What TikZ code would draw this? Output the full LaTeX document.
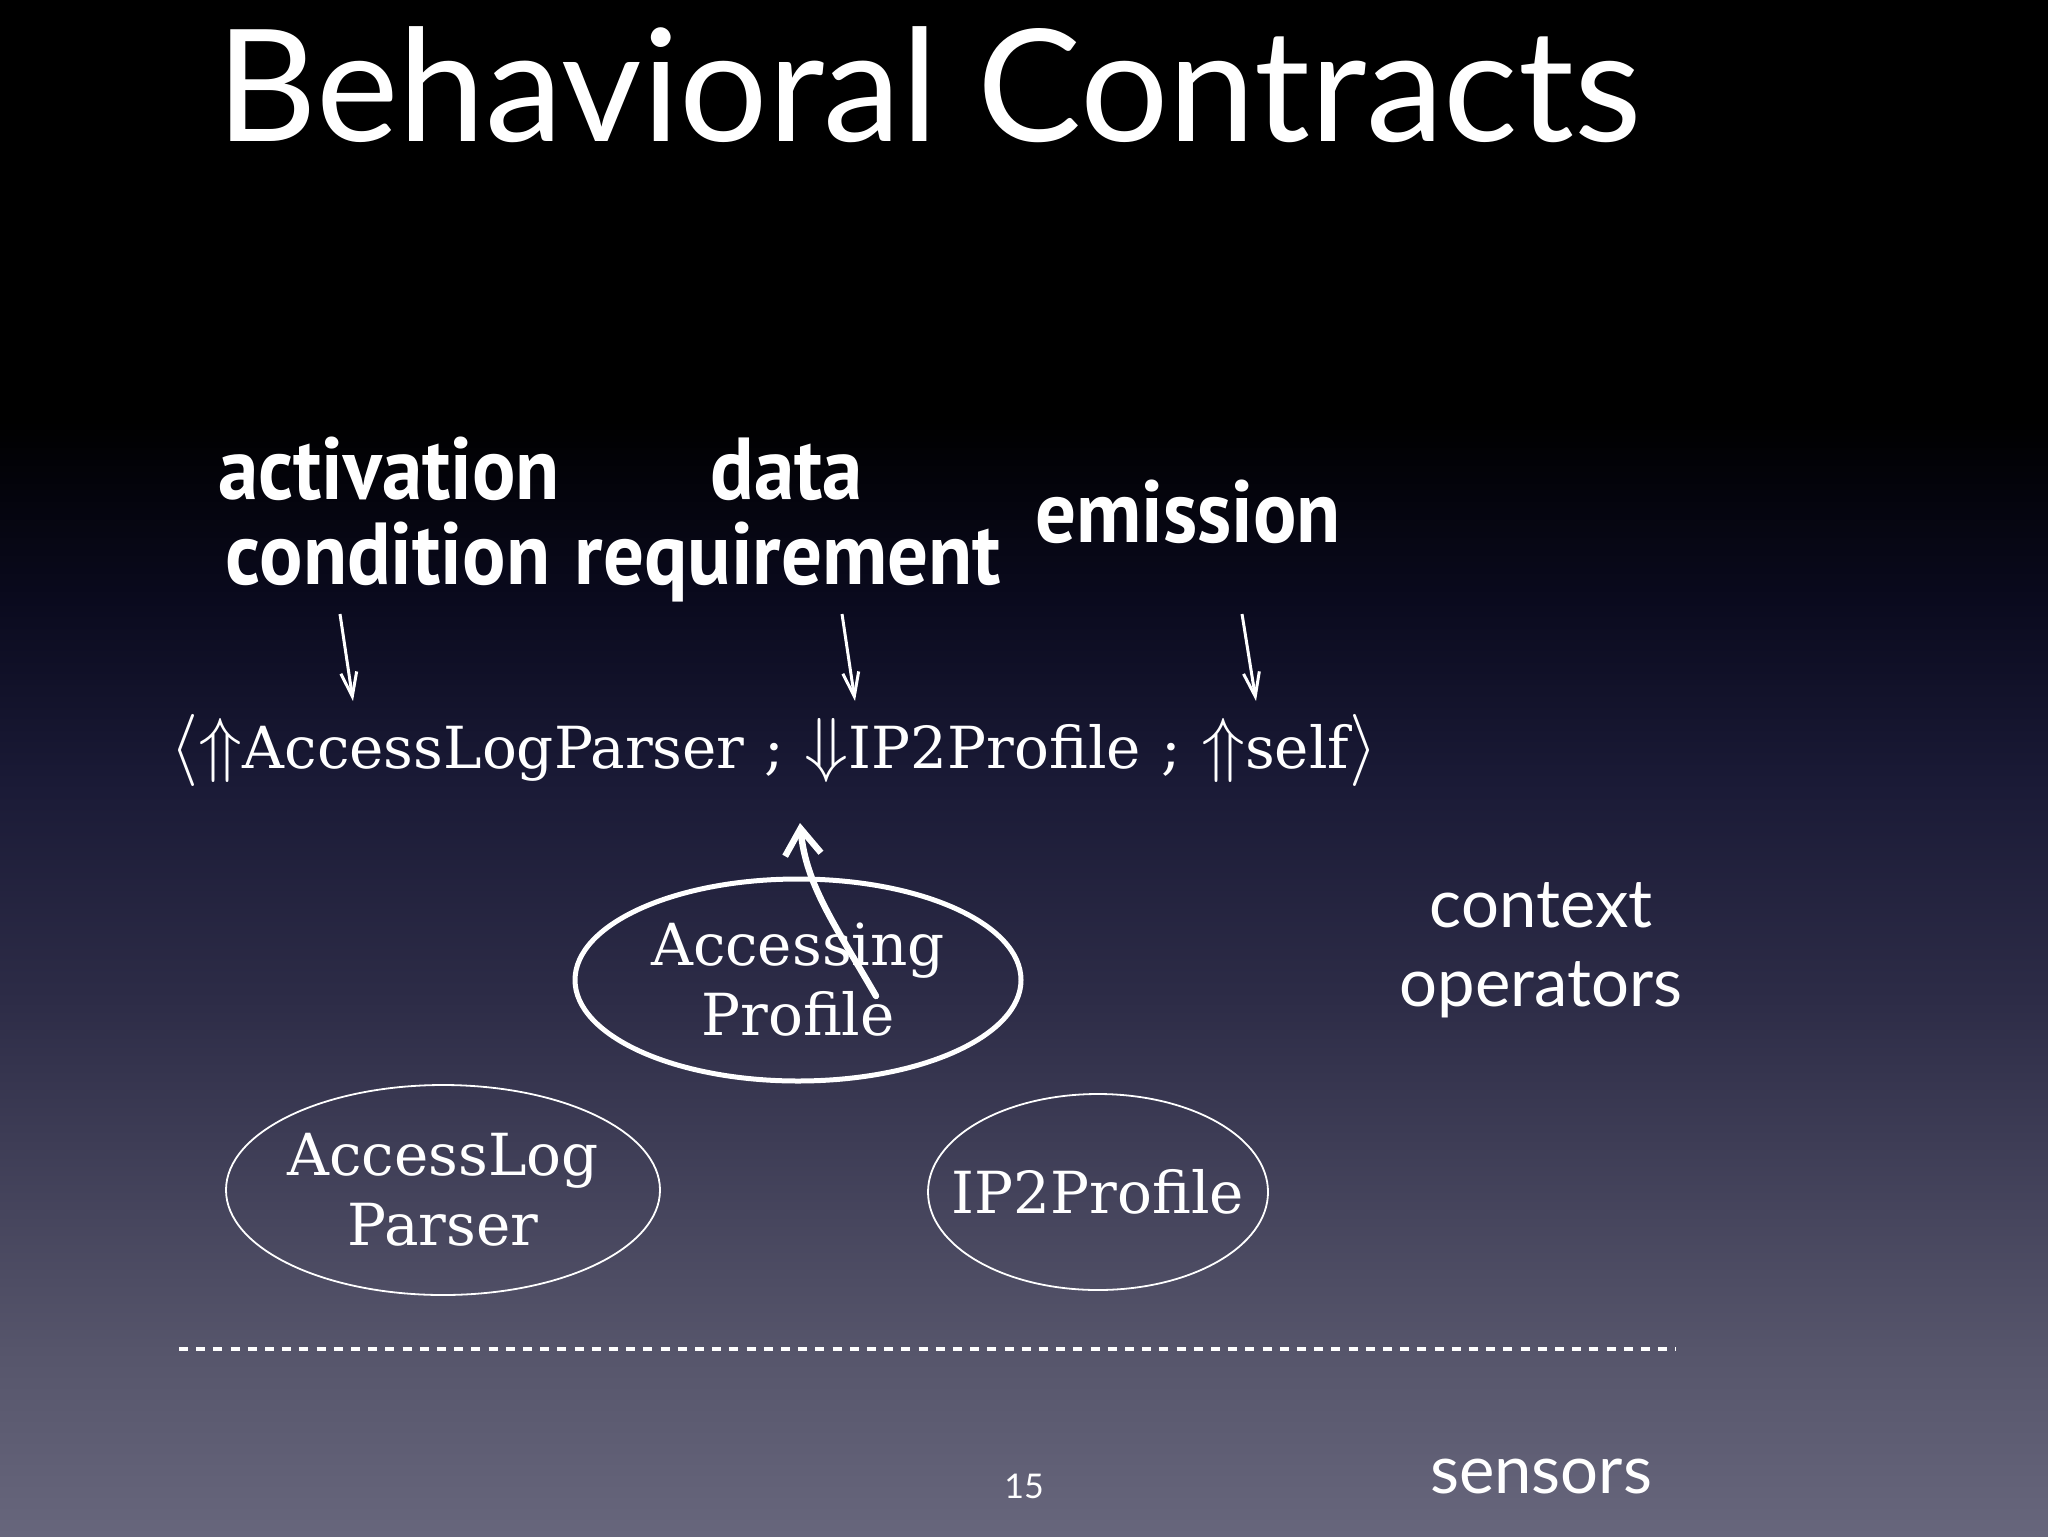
\documentclass[tikz,border=0pt]{standalone}
\usepackage{fontspec}
\usepackage{graphicx}
\usetikzlibrary{arrows.meta,shapes.geometric}
\newfontfamily\gillfont{Lato}
\newfontfamily\handfont[FakeStretch=0.92]{PT Sans}
\newfontfamily\twfont{DejaVu Serif}
\definecolor{bgA}{HTML}{0A0A1E}
\definecolor{bgB}{HTML}{1A1A36}
\definecolor{bgC}{HTML}{2D2C47}
\definecolor{bgD}{HTML}{56556B}
\definecolor{bgE}{HTML}{67667C}
\newcommand{\bigsym}[1]{\scalebox{1.45}{$#1$}}
\tikzset{
  titletext/.style={font=\gillfont\fontsize{78}{80}\selectfont, text=white, anchor=base, inner sep=0pt},
  handtext/.style={font=\handfont\bfseries\fontsize{44}{46}\selectfont, text=white, anchor=base, inner sep=0pt},
  formtext/.style={font=\twfont\fontsize{29}{36}\selectfont, text=white, anchor=base, inner sep=0pt},
  gilltext/.style={font=\gillfont\fontsize{33.5}{40}\selectfont, text=white, anchor=base, inner sep=0pt},
  opshape/.style={ellipse, draw=white, inner sep=0pt},
  optext/.style={text=white, align=center, inner sep=0pt, font=\twfont\fontsize{29}{35}\selectfont},
  labelarrow/.style={white, line width=1.5pt, -{Straight Barb[length=12pt,width=8pt]}},
  bigarrow/.style={white, line width=3.2pt, line cap=round, -{Straight Barb[length=13pt,width=18pt]}},
}
\begin{document}
\begin{tikzpicture}[x=0.5pt,y=-0.5pt]
\useasboundingbox (0,0) rectangle (2048,1536);
% background
\fill[black] (0,0) rectangle (2048,421);
\shade[top color=black, bottom color=bgA] (0,420) rectangle (2048,601);
\shade[top color=bgA, bottom color=bgB] (0,600) rectangle (2048,781);
\shade[top color=bgB, bottom color=bgC] (0,780) rectangle (2048,1001);
\shade[top color=bgC, bottom color=bgD] (0,1000) rectangle (2048,1351);
\shade[top color=bgD, bottom color=bgE] (0,1350) rectangle (2048,1536);

% title
\node[titletext] (title) at (929,141) {Behavioral Contracts};

% handwritten labels
\node[handtext] (act) at (389,499) {activation};
\node[handtext] (cond) at (388,584) {condition};
\node[handtext] (data) at (787,499) {data};
\node[handtext] (req) at (788,584) {requirement};
\node[handtext] (emis) at (1188,542) {emission};

% formula
\node[formtext] (formula) at (774,768)
  {\bigsym{\langle}\bigsym{\Uparrow}AccessLogParser\hspace{0.35em};\hspace{0.35em}\bigsym{\Downarrow}IP2Profile\hspace{0.35em};\hspace{0.35em}\bigsym{\Uparrow}self\bigsym{\rangle}};

% label arrows
\coordinate (a1s) at (340,614); \coordinate (a1e) at (353,701);
\coordinate (a2s) at (842,614); \coordinate (a2e) at (855,701);
\coordinate (a3s) at (1242,614); \coordinate (a3e) at (1256,701);
\draw[labelarrow] (a1s) -- (a1e);
\draw[labelarrow] (a2s) -- (a2e);
\draw[labelarrow] (a3s) -- (a3e);

% operators
\node[opshape, line width=2.5pt, minimum width=223pt, minimum height=101pt] (ap) at (798,980) {};
\node[optext] (apt) at (ap) {Accessing\\Profile};
\node[opshape, line width=0.9pt, minimum width=217pt, minimum height=105pt] (alp) at (443,1190) {};
\node[optext] (alpt) at (alp) {AccessLog\\Parser};
\node[opshape, line width=0.9pt, minimum width=170pt, minimum height=98pt] (ip) at (1098,1192) {};
\node[optext] (ipt) at (ip) {IP2Profile};

% curved arrow
\coordinate (cs) at (876,996);
\coordinate (ce) at (800,823);
\draw[bigarrow] (cs) .. controls (835,925) and (806,885) .. (ce);

% side labels
\node[gilltext] (ctx) at (1541,927) {context};
\node[gilltext] (ops) at (1541,1006) {operators};
\node[gilltext] (sens) at (1541,1493) {sensors};
\node[gilltext, font=\gillfont\fontsize{17}{20}\selectfont] (pg) at (1024,1498) {15};

% divider
\coordinate (dl) at (179,1349); \coordinate (dr) at (1676,1349);
\draw[white, line width=1.6pt, dash pattern=on 4.5pt off 4.1pt] (dl) -- (dr);
\end{tikzpicture}
\end{document}
